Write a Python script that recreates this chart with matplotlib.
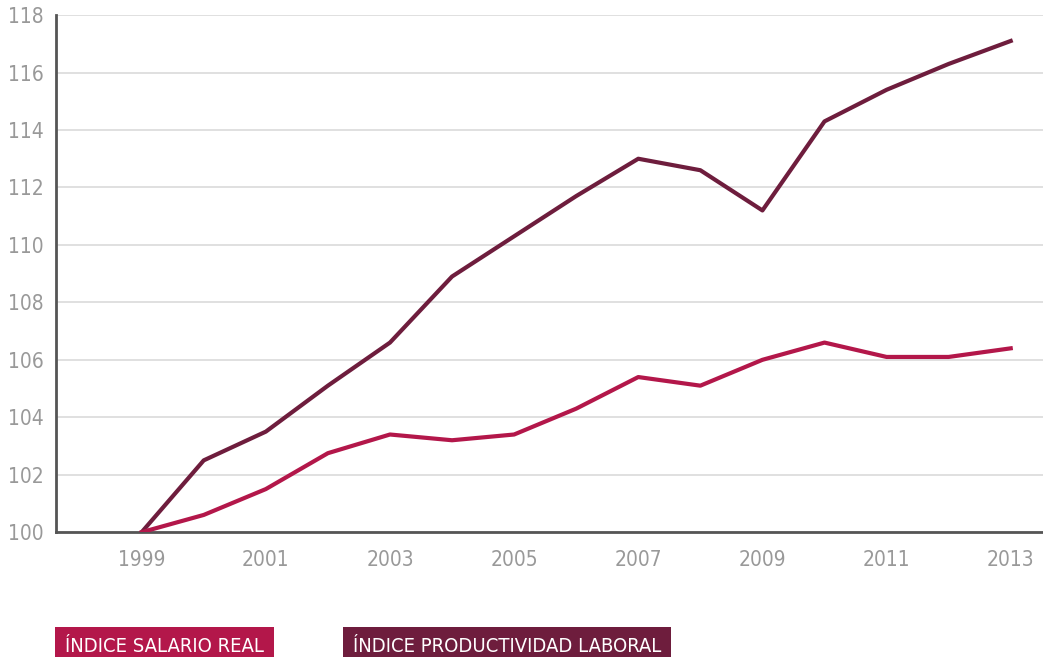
import matplotlib.pyplot as plt

years = list(range(1999, 2014))
salario_real = [100.0, 100.6, 101.5, 102.75, 103.4, 103.2, 103.4, 104.3, 105.4, 105.1,
                106.0, 106.6, 106.1, 106.1, 106.4]
productividad = [100.0, 102.5, 103.5, 105.1, 106.6, 108.9, 110.3, 111.7, 113.0, 112.6,
                 111.2, 114.3, 115.4, 116.3, 117.1]
x_ticks = [1999, 2001, 2003, 2005, 2007, 2009, 2011, 2013]
y_ticks = [100, 102, 104, 106, 108, 110, 112, 114, 116, 118]

col_salario = '#b3174a'
col_prod = '#6e1d3d'

plt.rcParams['font.family'] = ['DejaVu Sans']
plt.rcParams['font.stretch'] = 'condensed'

fig = plt.figure(figsize=(10.43, 6.57), dpi=100)
ax = fig.add_axes([0.0537, 0.190, 0.9463, 0.787])

ax.plot(years, productividad, color=col_prod, linewidth=3.0, zorder=3)
ax.plot(years, salario_real, color=col_salario, linewidth=3.0, zorder=3)

ax.set_xlim(1997.62, 2013.52)
ax.set_ylim(100, 118)
ax.set_xticks(x_ticks)
ax.set_yticks(y_ticks)
ax.grid(axis='y', color='#dadada', linewidth=1.2)
ax.set_axisbelow(True)
for s in ['top', 'right']:
    ax.spines[s].set_visible(False)
for s in ['left', 'bottom']:
    ax.spines[s].set_color('#555555')
    ax.spines[s].set_linewidth(2)
ax.tick_params(length=0, labelsize=15, labelcolor='#999999')
ax.tick_params(axis='x', pad=13)
ax.tick_params(axis='y', pad=9)

# legend chips at the bottom, cut off by the figure edge
fig.text(0.0625, 0.008, 'ÍNDICE SALARIO REAL', color='white', fontsize=14.5,
         va='baseline', ha='left', fontstretch='condensed',
         bbox=dict(boxstyle='square,pad=0.5', facecolor=col_salario, edgecolor='none'))
fig.text(0.3385, 0.008, 'ÍNDICE PRODUCTIVIDAD LABORAL', color='white', fontsize=14.5,
         va='baseline', ha='left', fontstretch='condensed',
         bbox=dict(boxstyle='square,pad=0.5', facecolor=col_prod, edgecolor='none'))

fig.savefig('out.png', dpi=100)
